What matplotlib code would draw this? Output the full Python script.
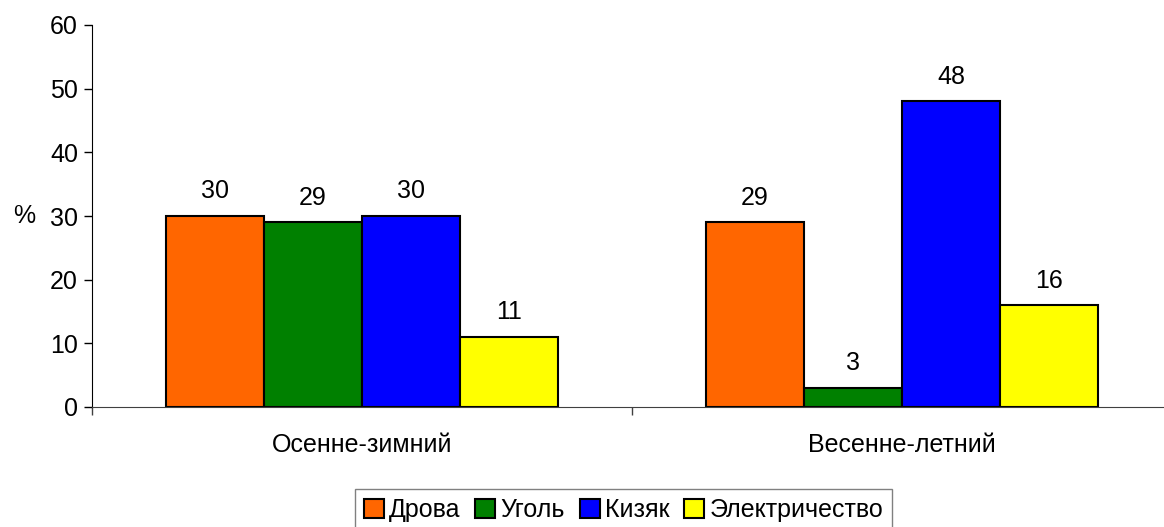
import matplotlib
matplotlib.use('Agg')
import matplotlib.pyplot as pyplot
import numpy as np

pyplot.rcParams['font.family'] = ['Liberation Sans', 'DejaVu Sans']

seasons = ['Осенне-зимний', 'Весенне-летний']
fuels = ['Дрова', 'Уголь', 'Кизяк', 'Электричество']
colors = ['#FF6600', '#008000', '#0000FF', '#FFFF00']
drova = [30, 29]
ugol = [29, 3]
kizyak = [30, 48]
elektro = [11, 16]
values = [drova, ugol, kizyak, elektro]

figure = pyplot.figure(figsize=(11.64, 5.27), dpi=100)
axes = figure.add_axes([92/1164, 120/527, 1080/1164, 382/527])

x = np.arange(len(seasons))
width = 1 / 5.5
for i, (name, vals) in enumerate(zip(fuels, values)):
    pos = x + (i - 1.5) * width
    axes.bar(pos, vals, width, color=colors[i], edgecolor='black',
             linewidth=1.5, label=name)
    for p, v in zip(pos, vals):
        axes.annotate(str(v), (p, v), xytext=(0, 9), textcoords='offset points',
                      ha='center', va='bottom', fontsize=18)

axes.set_xlim(-0.5, 1.5)
axes.set_ylim(0, 60)
axes.set_yticks(range(0, 61, 10))
axes.set_xticks([-0.5, 0.5, 1.5])
axes.set_xticklabels([])
axes.set_xticks(x, minor=True)
axes.set_xticklabels(seasons, minor=True)
axes.tick_params(axis='x', which='minor', length=0, pad=19, labelsize=18)
axes.tick_params(axis='x', which='major', length=6, width=1, color='#404040')
axes.tick_params(axis='y', length=6, width=1, labelsize=18, pad=4)
axes.spines['top'].set_visible(False)
axes.spines['right'].set_visible(False)
axes.spines['bottom'].set_color('#404040')
axes.text(-57/1080, 30, '%', transform=axes.get_yaxis_transform(),
          ha='right', va='center', fontsize=18)

legend = figure.legend(loc='upper center', bbox_to_anchor=(623.5/1164, 1 - 489/527),
                       ncol=4, fontsize=18, frameon=True, fancybox=False,
                       handlelength=0.8, handleheight=0.8, handletextpad=0.2,
                       columnspacing=0.6, borderpad=0.35, borderaxespad=0)
legend.get_frame().set_edgecolor('#606060')
legend.get_frame().set_linewidth(1)

pyplot.savefig('out.png', dpi=100)
